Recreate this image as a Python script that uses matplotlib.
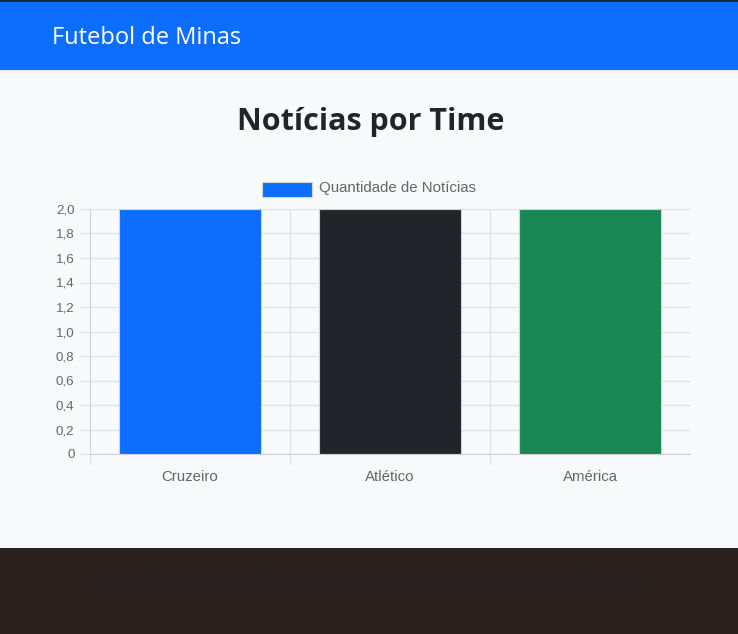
import matplotlib
matplotlib.use("Agg")
import matplotlib.pyplot as plt
from matplotlib.patches import Rectangle
from matplotlib.ticker import FixedLocator, FuncFormatter

# Data
teams = ["Cruzeiro", "Atlético", "América"]
news_counts = [2, 2, 2]
bar_colors = ["#0d6efd", "#212529", "#198754"]
y_ticks = [0, 0.2, 0.4, 0.6, 0.8, 1.0, 1.2, 1.4, 1.6, 1.8, 2.0]
legend_label = "Quantidade de Notícias"
title_text = "Notícias por Time"
brand_text = "Futebol de Minas"
footer_text = "© 2024 Futebol de Minas | Desenvolvido por Marcos Souza Campos"

W, H = 738, 634
fig = plt.figure(figsize=(W / 100, H / 100), dpi=100)
fig.patch.set_facecolor("#f8f9fa")

def fx(px):
    return px / W

def fy(py):
    return 1 - py / H

font_main = ["Open Sans", "DejaVu Sans"]
font_chart = ["Liberation Sans", "DejaVu Sans"]

# Navbar with soft shadow
for i, c in enumerate(["#eceef0", "#f1f2f4", "#f5f6f7"]):
    fig.patches.append(Rectangle((0, fy(71 + i)), 1, 1 / H, transform=fig.transFigure,
                                 facecolor=c, edgecolor="none", zorder=0))
fig.patches.append(Rectangle((0, fy(70)), 1, 70 / H, transform=fig.transFigure,
                             facecolor="#0d6efd", edgecolor="none", zorder=1))
fig.patches.append(Rectangle((0, fy(1.5)), 1, 1.5 / H, transform=fig.transFigure,
                             facecolor="#1b2a3a", edgecolor="none", zorder=2))
fig.text(fx(52), fy(38), brand_text, color="white", fontsize=17,
         family=font_main, va="center", ha="left", zorder=3)

# Footer
fig.patches.append(Rectangle((0, 0), 1, (H - 548) / H, transform=fig.transFigure,
                             facecolor="#2b2220", edgecolor="none", zorder=1))
fig.text(0.5, fy(582), footer_text, color="#242326", fontsize=12.5,
         family=font_main, va="center", ha="center", zorder=3)

# Title
fig.text(fx(371), fy(122), title_text, color="#212529", fontsize=22,
         family=font_main, fontweight="bold", va="center", ha="center")

# Axes
ax_left, ax_right, ax_top, ax_bottom = 90, 690, 209, 454
ax = fig.add_axes([fx(ax_left), fy(ax_bottom), (ax_right - ax_left) / W,
                   (ax_bottom - ax_top) / H])
ax.set_facecolor("none")

x = list(range(len(teams)))
ax.bar(x, news_counts, width=0.71, color=bar_colors,
       edgecolor="#d3d4d6", linewidth=0.8, zorder=3, label=legend_label)

ax.set_xlim(-0.5, len(teams) - 0.5)
ax.set_ylim(0, 2.0)

grid_c = "#e2e3e5"
for v in y_ticks:
    ax.axhline(v, color=grid_c, lw=1, zorder=1)
for b in [0.5, 1.5]:
    ax.axvline(b, color=grid_c, lw=1, zorder=1)

for s in ["top", "right"]:
    ax.spines[s].set_visible(False)
ax.spines["left"].set_color("#d0d1d3")
ax.spines["bottom"].set_color("#d0d1d3")

ax.yaxis.set_major_locator(FixedLocator(y_ticks))
ax.yaxis.set_major_formatter(FuncFormatter(
    lambda v, p: "0" if abs(v) < 1e-9 else f"{v:.1f}".replace(".", ",")))
ax.tick_params(axis="y", length=7.2, width=1, color=grid_c,
               labelsize=9.6, labelcolor="#666666", pad=4)

ax.set_xticks(x)
ax.set_xticklabels(teams)
ax.set_xticks([-0.5, 0.5, 1.5], minor=True)
ax.tick_params(axis="x", which="major", length=0, labelsize=10.8,
               labelcolor="#666666", pad=11.5)
ax.tick_params(axis="x", which="minor", length=7.2, width=1, color=grid_c)
for lbl in ax.get_xticklabels() + ax.get_yticklabels():
    lbl.set_family(font_chart)

# Legend (manual, Chart.js style)
fig.patches.append(Rectangle((fx(262), fy(196.5)), 50 / W, 15 / H,
                             transform=fig.transFigure, facecolor="#0d6efd",
                             edgecolor="#d3d4d6", linewidth=0.8, zorder=3))
fig.text(fx(319), fy(188.5), legend_label, color="#666666", fontsize=10.8,
         family=font_chart, va="center", ha="left")

fig.savefig("out.png", dpi=100, facecolor=fig.get_facecolor())
